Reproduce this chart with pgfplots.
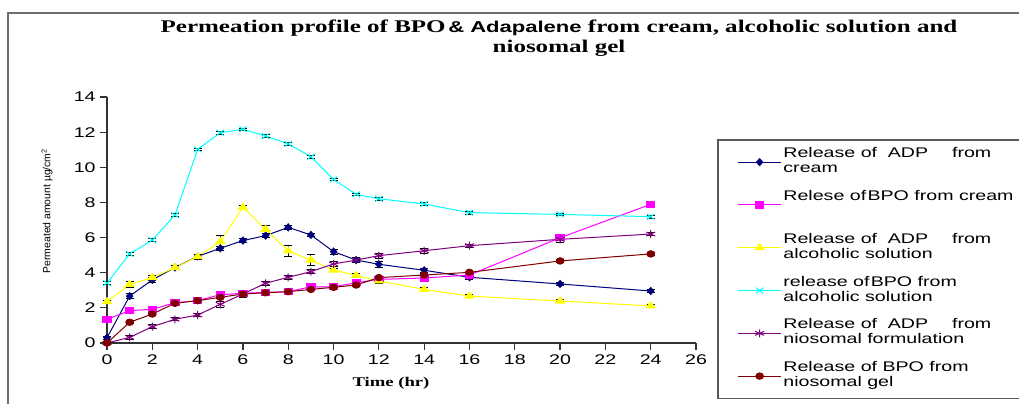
\documentclass[border=0pt]{standalone}
\usepackage{pgfplots}
\usepackage{pgfplotstable}
\pgfplotsset{compat=1.18}
\usepackage{fontspec}
\setmainfont{Liberation Sans}[FakeStretch=1.4]
\newfontfamily\labelsans{Liberation Sans}
\newfontfamily\titleserif{Liberation Serif}[FakeStretch=1.4]

\definecolor{adpcream}{HTML}{000080}
\definecolor{bpocream}{HTML}{FF00FF}
\definecolor{adpalc}{HTML}{FFFF00}
\definecolor{bpoalc}{HTML}{00FFFF}
\definecolor{adpnio}{HTML}{800080}
\definecolor{bponio}{HTML}{800000}
\definecolor{framegray}{HTML}{6E6E6E}

% permeated amount (ug/cm^2) against time (hr), with SD
\pgfplotstableread{
t  adpc adpce bpoc bpoce adpa adpae bpoa  bpoae adpn adpne bpon bpone
0  0.30 0.10  1.35 0.08  2.35 0.10  3.41  0.08  0.00 0.08  0.00 0.08
1  2.67 0.15  1.84 0.08  3.34 0.15  5.07  0.10  0.32 0.10  1.18 0.08
2  3.59 0.12  1.92 0.08  3.72 0.15  5.86  0.08  0.93 0.12  1.65 0.08
3  4.30 0.10  2.29 0.08  4.29 0.10  7.28  0.08  1.35 0.08  2.26 0.08
4  4.93 0.10  2.41 0.08  4.91 0.15  11.02 0.08  1.59 0.10  2.41 0.08
5  5.39 0.12  2.75 0.08  5.77 0.38  11.97 0.08  2.20 0.15  2.60 0.08
6  5.83 0.12  2.83 0.08  7.72 0.12  12.16 0.08  2.79 0.20  2.79 0.10
7  6.11 0.10  2.88 0.08  6.47 0.25  11.78 0.08  3.40 0.12  2.86 0.08
8  6.58 0.10  2.92 0.08  5.24 0.30  11.33 0.08  3.74 0.10  2.92 0.08
9  6.15 0.10  3.20 0.08  4.72 0.33  10.60 0.08  4.06 0.12  3.05 0.08
10 5.20 0.15  3.20 0.08  4.15 0.10  9.31  0.08  4.50 0.15  3.17 0.08
11 4.72 0.15  3.43 0.08  3.85 0.10  8.46  0.08  4.72 0.15  3.30 0.08
12 4.48 0.15  3.62 0.08  3.53 0.12  8.21  0.08  4.97 0.15  3.72 0.08
14 4.14 0.10  3.70 0.08  3.05 0.10  7.91  0.08  5.25 0.15  3.87 0.08
16 3.74 0.10  3.87 0.08  2.67 0.08  7.42  0.08  5.54 0.10  4.02 0.08
20 3.36 0.10  5.99 0.10  2.39 0.10  7.32  0.08  5.90 0.20  4.67 0.08
24 2.96 0.10  7.89 0.08  2.11 0.10  7.19  0.08  6.20 0.10  5.07 0.08
}\perm

\begin{document}
\begin{tikzpicture}[x=0.75pt,y=0.75pt]
\path[use as bounding box] (0,0) rectangle (1019,404);

% chart area frame (top and left edges)
\draw[framegray, line width=2pt] (8,0) -- (8,391) -- (1019,391);

% title
\node[font=\titleserif\bfseries\fontsize{13.4}{15}\selectfont, align=center] at (559,366)
  {Permeation profile of BPO{\rmfamily\bfseries\fontsize{11.8}{15}\selectfont\,\& Adapalene} from cream, alcoholic solution and\\niosomal gel};

% axis titles
\node[font=\titleserif\bfseries\fontsize{10}{12}\selectfont] at (391,21) {Time (hr)};
\node[rotate=90, font=\labelsans\fontsize{7.8}{9}\selectfont] at (47,193) {Permeated amount µg/cm\textsuperscript{2}};

\coordinate (origin) at (107,61);

\begin{axis}[
  at={(origin)}, anchor=south west,
  scale only axis, width=441.75pt, height=184.5pt,
  xmin=0, xmax=26, ymin=0, ymax=14,
  xtick={0,2,...,26}, ytick={0,2,...,14},
  axis lines=left, axis line style={-, black!80, line width=1.1pt},
  tick align=outside, major tick length=5pt,
  tick style={black!80, line width=0.9pt},
  tick label style={font=\rmfamily\fontsize{10.5}{12}\selectfont},
  /pgf/number format/assume math mode=true,
  clip=false,
  every axis plot/.append style={line width=0.75pt},
  error bars/y dir=both, error bars/y explicit,
  error bars/error bar style={black, line width=0.6pt, solid},
  error bars/error mark options={black, rotate=90, mark size=3pt, line width=0.6pt},
  legend style={at={(1.0357,0.829)}, anchor=north west, draw=black!65, line width=1.1pt,
    font=\rmfamily\fontsize{10.5}{11.25}\selectfont, row sep=6.6pt,
    inner xsep=15pt, inner ysep=4pt,
    nodes={inner sep=1.5pt, text depth=}},
  legend cell align=left,
  legend image code/.code={\draw[mark repeat=2, mark phase=2] plot coordinates {(0pt,0pt) (16pt,0pt) (32pt,0pt)};},
]
\addplot[color=adpcream, mark=diamond*, mark size=2.6pt, mark options={solid, xscale=1.2}]
  table[x=t, y=adpc, y error=adpce] {\perm};
\addlegendentry{\begin{tabular}[t]{@{}l@{}}Release of\hspace{8pt}ADP\hspace{18pt}from\\cream\end{tabular}}
\addplot[color=bpocream, mark=square*, mark size=2.4pt, mark options={solid, xscale=1.3}]
  table[x=t, y=bpoc, y error=bpoce] {\perm};
\addlegendentry{\begin{tabular}[t]{@{}l@{}}Relese of\hspace{1pt}BPO from cream\\ \mbox{}\end{tabular}}
\addplot[color=adpalc, mark=triangle*, mark size=3pt, mark options={solid, xscale=1.3}]
  table[x=t, y=adpa, y error=adpae] {\perm};
\addlegendentry{\begin{tabular}[t]{@{}l@{}}Release of\hspace{8pt}ADP\hspace{18pt}from\\alcoholic solution\end{tabular}}
\addplot[color=bpoalc, mark=x, mark size=3pt, mark options={solid, xscale=1.3}]
  table[x=t, y=bpoa, y error=bpoae] {\perm};
\addlegendentry{\begin{tabular}[t]{@{}l@{}}release of\hspace{1pt}BPO from\\alcoholic solution\end{tabular}}
\addplot[color=adpnio, mark=asterisk, mark size=3pt, mark options={solid, xscale=1.3}]
  table[x=t, y=adpn, y error=adpne] {\perm};
\addlegendentry{\begin{tabular}[t]{@{}l@{}}Release of\hspace{8pt}ADP\hspace{18pt}from\\niosomal formulation\end{tabular}}
\addplot[color=bponio, mark=*, mark size=2.4pt, mark options={solid, xscale=1.2}]
  table[x=t, y=bpon, y error=bpone] {\perm};
\addlegendentry{\begin{tabular}[t]{@{}l@{}}Release of BPO from\\niosomal gel\end{tabular}}
\end{axis}
\end{tikzpicture}
\end{document}
